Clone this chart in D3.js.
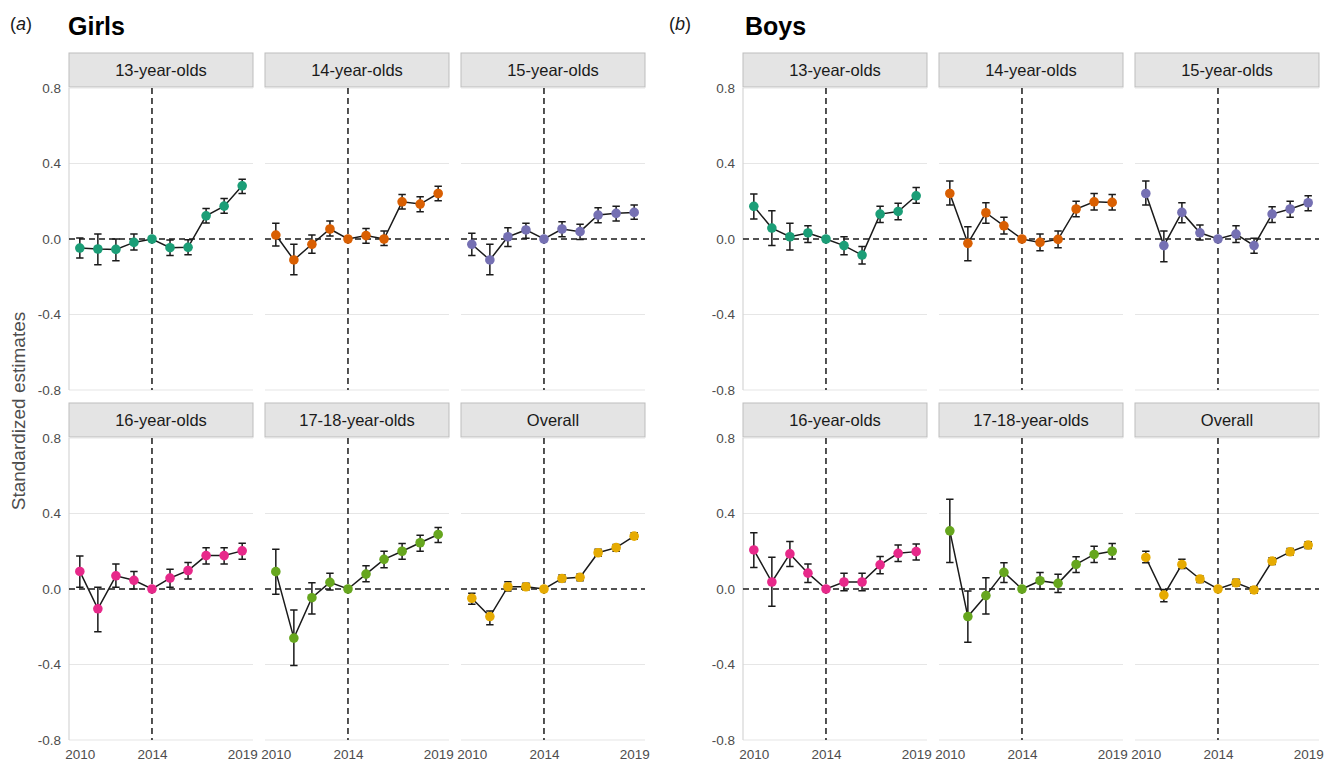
<!DOCTYPE html>
<html>
<head>
<meta charset="utf-8">
<script src="https://cdn.jsdelivr.net/npm/d3@7"></script>
<style>
    body { margin: 0; background: #fff; }
    svg { font-family: "Liberation Sans", Arial, sans-serif; }
</style>
</head>
<body>
<svg id="chart" width="1333" height="763"></svg>
<script>
const years = [2010, 2011, 2012, 2013, 2014, 2015, 2016, 2017, 2018, 2019];
const groups = ["13-year-olds", "14-year-olds", "15-year-olds",
                "16-year-olds", "17-18-year-olds", "Overall"];
const groupColors = ["#1b9e77", "#d95f02", "#7570b3", "#e7298a", "#66a61e", "#e6ab02"];
const yTicks = [-0.8, -0.4, 0, 0.4, 0.8];
const xTicks = [2010, 2014, 2019];

// girls: estimate, lower and upper CI per group (2014 is the reference year)
const girlsEst = [
    [-0.048, -0.053, -0.055, -0.018, 0, -0.046, -0.044, 0.123, 0.174, 0.282],
    [0.021, -0.111, -0.028, 0.053, 0, 0.018, 0.0, 0.197, 0.185, 0.241],
    [-0.028, -0.111, 0.012, 0.048, 0, 0.053, 0.039, 0.127, 0.136, 0.141],
    [0.093, -0.105, 0.070, 0.046, 0, 0.058, 0.098, 0.177, 0.177, 0.202],
    [0.092, -0.260, -0.046, 0.035, 0, 0.079, 0.157, 0.200, 0.245, 0.289],
    [-0.049, -0.146, 0.012, 0.012, 0, 0.056, 0.062, 0.192, 0.219, 0.280]
];
const girlsLow = [
    [-0.100, -0.137, -0.115, -0.058, null, -0.088, -0.083, 0.085, 0.136, 0.241],
    [-0.037, -0.190, -0.076, 0.016, null, -0.023, -0.035, 0.159, 0.145, 0.203],
    [-0.088, -0.190, -0.040, 0.004, null, 0.012, -0.002, 0.086, 0.095, 0.104],
    [0.009, -0.226, 0.009, 0.000, null, 0.009, 0.053, 0.132, 0.132, 0.158],
    [-0.028, -0.405, -0.132, -0.005, null, 0.039, 0.113, 0.157, 0.200, 0.247],
    [-0.081, -0.190, -0.011, -0.005, null, 0.039, 0.044, 0.174, 0.200, 0.263]
];
const girlsHigh = [
    [0.005, 0.026, 0.000, 0.026, null, -0.005, -0.004, 0.162, 0.215, 0.317],
    [0.083, -0.028, 0.021, 0.095, null, 0.056, 0.042, 0.236, 0.224, 0.280],
    [0.030, -0.028, 0.060, 0.083, null, 0.092, 0.078, 0.166, 0.174, 0.180],
    [0.175, 0.009, 0.132, 0.093, null, 0.105, 0.140, 0.219, 0.219, 0.242],
    [0.210, -0.111, 0.033, 0.083, null, 0.123, 0.200, 0.241, 0.285, 0.326],
    [-0.023, -0.116, 0.039, 0.030, null, 0.074, 0.079, 0.210, 0.236, 0.298]
];

// boys
const boysEst = [
    [0.173, 0.058, 0.012, 0.032, 0, -0.035, -0.085, 0.132, 0.146, 0.229],
    [0.241, -0.023, 0.139, 0.070, 0, -0.018, -0.002, 0.159, 0.197, 0.194],
    [0.241, -0.035, 0.141, 0.033, 0, 0.026, -0.035, 0.132, 0.159, 0.192],
    [0.207, 0.037, 0.186, 0.084, 0, 0.037, 0.037, 0.128, 0.189, 0.198],
    [0.308, -0.146, -0.035, 0.088, 0, 0.044, 0.030, 0.130, 0.183, 0.200],
    [0.167, -0.032, 0.130, 0.053, 0, 0.033, -0.005, 0.148, 0.197, 0.233]
];
const boysLow = [
    [0.106, -0.035, -0.058, -0.018, null, -0.083, -0.132, 0.088, 0.102, 0.189],
    [0.180, -0.115, 0.083, 0.026, null, -0.062, -0.046, 0.118, 0.153, 0.153],
    [0.180, -0.120, 0.086, -0.005, null, -0.018, -0.076, 0.088, 0.115, 0.150],
    [0.114, -0.091, 0.119, 0.035, null, -0.009, -0.009, 0.081, 0.146, 0.154],
    [0.141, -0.282, -0.132, 0.035, null, 0.000, -0.019, 0.088, 0.141, 0.159],
    [0.139, -0.067, 0.109, 0.035, null, 0.016, -0.023, 0.130, 0.180, 0.215]
];
const boysHigh = [
    [0.238, 0.150, 0.083, 0.070, null, 0.012, -0.040, 0.173, 0.190, 0.273],
    [0.307, 0.065, 0.192, 0.115, null, 0.026, 0.042, 0.200, 0.241, 0.236],
    [0.307, 0.042, 0.192, 0.074, null, 0.070, 0.004, 0.171, 0.200, 0.229],
    [0.298, 0.168, 0.251, 0.132, null, 0.084, 0.084, 0.172, 0.233, 0.239],
    [0.476, -0.011, 0.060, 0.139, null, 0.088, 0.078, 0.171, 0.227, 0.241],
    [0.200, -0.002, 0.157, 0.069, null, 0.051, 0.012, 0.166, 0.215, 0.250]
];

// размеры фасеток
const facet = { width: 184, height: 302, strip: 34 };
const rowTop = [88, 438];
const girlsX = [69, 265, 461];
const boysX = [743, 939, 1135];

const svg = d3.select("svg#chart");

function drawFacet(x0, y0, est, low, high, label, color, showY, showX) {
    const scX = d3.scaleLinear()
        .domain([2009.4, 2019.6])
        .range([x0, x0 + facet.width]);
    const scY = d3.scaleLinear()
        .domain([-0.8, 0.8])
        .range([y0 + facet.height, y0]);

    const g = svg.append("g");

    // strip
    g.append("rect")
        .attr("x", x0)
        .attr("y", y0 - facet.strip - 1)
        .attr("width", facet.width)
        .attr("height", facet.strip)
        .style("fill", "#e4e4e4")
        .style("stroke", "#bdbdbd")
        .style("stroke-width", 1);
    g.append("text")
        .attr("x", x0 + facet.width / 2)
        .attr("y", y0 - facet.strip / 2 - 1)
        .attr("dy", "0.35em")
        .attr("text-anchor", "middle")
        .style("font-size", "16.5px")
        .style("fill", "#1a1a1a")
        .text(label);

    // сетка
    g.selectAll(".grid")
        .data(yTicks.filter(d => d !== 0))
        .enter()
        .append("line")
        .attr("x1", x0)
        .attr("x2", x0 + facet.width)
        .attr("y1", d => scY(d))
        .attr("y2", d => scY(d))
        .style("stroke", "#e6e6e6")
        .style("stroke-width", 1.2);

    if (showY) {
        g.append("line")
            .attr("x1", x0).attr("x2", x0)
            .attr("y1", scY(0.8)).attr("y2", scY(-0.8))
            .style("stroke", "#d6d6d6")
            .style("stroke-width", 1.2);

        const axisY = d3.axisLeft(scY)
            .tickValues(yTicks)
            .tickFormat(d => d.toFixed(1))
            .tickSize(0)
            .tickPadding(8);
        const ay = g.append("g")
            .attr("transform", `translate(${x0}, 0)`)
            .call(axisY);
        ay.select(".domain").remove();
        ay.selectAll("text")
            .style("font-size", "13.5px")
            .style("fill", "#4d4d4d")
            .style("font-family", "'Liberation Sans', Arial, sans-serif");
    }

    if (showX) {
        const axisX = d3.axisBottom(scX)
            .tickValues(xTicks)
            .tickFormat(d3.format("d"))
            .tickSize(0)
            .tickPadding(9);
        const ax = g.append("g")
            .attr("transform", `translate(0, ${y0 + facet.height})`)
            .call(axisX);
        ax.select(".domain").remove();
        ax.selectAll("text")
            .style("font-size", "13.5px")
            .style("fill", "#4d4d4d")
            .style("font-family", "'Liberation Sans', Arial, sans-serif");
    }

    // пунктирные линии отсчёта
    g.append("line")
        .attr("x1", x0).attr("x2", x0 + facet.width)
        .attr("y1", scY(0)).attr("y2", scY(0))
        .style("stroke", "#1a1a1a")
        .style("stroke-width", 1.5)
        .style("stroke-dasharray", "6,4");
    g.append("line")
        .attr("x1", scX(2014)).attr("x2", scX(2014))
        .attr("y1", scY(0.8)).attr("y2", scY(-0.8))
        .style("stroke", "#1a1a1a")
        .style("stroke-width", 1.5)
        .style("stroke-dasharray", "6,4");

    const rows = years.map((y, i) => ({ year: y, est: est[i], low: low[i], high: high[i] }));

    const line = d3.line()
        .x(d => scX(d.year))
        .y(d => scY(d.est));
    g.append("path")
        .datum(rows)
        .attr("d", line)
        .style("fill", "none")
        .style("stroke", "#1a1a1a")
        .style("stroke-width", 1.5);

    // доверительные интервалы
    const bars = rows.filter(d => d.low !== null);
    const cap = 3.7;
    g.selectAll(".err")
        .data(bars)
        .enter()
        .append("path")
        .attr("d", d => {
            const x = scX(d.year), yl = scY(d.low), yh = scY(d.high);
            return `M${x - cap},${yh}H${x + cap}M${x},${yh}V${yl}M${x - cap},${yl}H${x + cap}`;
        })
        .style("fill", "none")
        .style("stroke", "#1a1a1a")
        .style("stroke-width", 1.5);

    g.selectAll(".pt")
        .data(rows)
        .enter()
        .append("circle")
        .attr("cx", d => scX(d.year))
        .attr("cy", d => scY(d.est))
        .attr("r", 4.8)
        .style("fill", color);
}

function drawPanel(xs, est, low, high, tag, title, tagX, titleX) {
    groups.forEach((label, i) => {
        const row = Math.floor(i / 3), col = i % 3;
        drawFacet(xs[col], rowTop[row], est[i], low[i], high[i], label,
                  groupColors[i], col === 0, row === 1);
    });

    const t = svg.append("text")
        .attr("x", tagX)
        .attr("y", 30)
        .style("font-size", "18px")
        .style("fill", "#1a1a1a");
    t.append("tspan").text("(");
    t.append("tspan").style("font-style", "italic").text(tag);
    t.append("tspan").text(")");

    svg.append("text")
        .attr("x", titleX)
        .attr("y", 35)
        .style("font-size", "25px")
        .style("font-weight", "bold")
        .style("fill", "#000")
        .text(title);
}

drawPanel(girlsX, girlsEst, girlsLow, girlsHigh, "a", "Girls", 10, 68);
drawPanel(boysX, boysEst, boysLow, boysHigh, "b", "Boys", 669, 745);

svg.append("text")
    .attr("transform", "translate(25, 411) rotate(-90)")
    .attr("text-anchor", "middle")
    .style("font-size", "19px")
    .style("fill", "#4d4d4d")
    .text("Standardized estimates");
</script>
</body>
</html>
